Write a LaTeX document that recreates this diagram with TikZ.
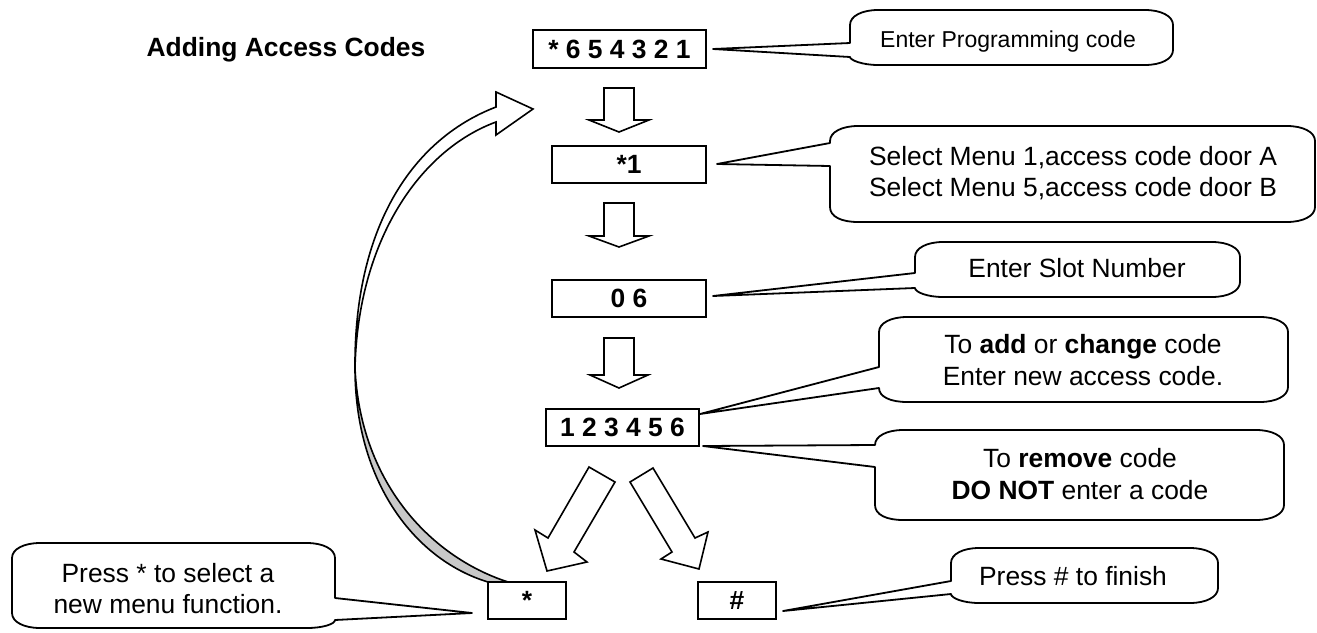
\documentclass[tikz,border=0pt]{standalone}
\usepackage{fontspec}
\setmainfont{Liberation Sans}
\newcommand\fs{\fontsize{13.2}{15.75}\selectfont}
\newcommand\fss{\fontsize{11.5}{14}\selectfont}
\definecolor{curvegray}{RGB}{200,200,200}
% callout with wedge on the left side: L,T,R,B,wedge-top,wedge-bottom,tip
\newcommand\calloutL[7]{%
 \draw[co] (#1+28,#2) -- (#3-28,#2) .. controls (#3-12,#2) and (#3,#2+6) .. (#3,#2+15)
  -- (#3,#4-15) .. controls (#3,#4-6) and (#3-12,#4) .. (#3-28,#4)
  -- (#1+28,#4) .. controls (#1+12,#4) and (#1,#4-5) .. (#1,{max(#6,#4-15)})
  -- (#1,#6) -- (#7) -- (#1,#5) -- (#1,{min(#5,#2+15)})
  .. controls (#1,#2+6) and (#1+12,#2) .. (#1+28,#2) -- cycle;}
% callout with wedge on the right side
\newcommand\calloutR[7]{%
 \draw[co] (#3-28,#2) .. controls (#3-12,#2) and (#3,#2+6) .. (#3,{min(#5,#2+15)})
  -- (#3,#5) -- (#7) -- (#3,#6) -- (#3,{max(#6,#4-15)})
  .. controls (#3,#4-4) and (#3-12,#4) .. (#3-28,#4)
  -- (#1+28,#4) .. controls (#1+12,#4) and (#1,#4-6) .. (#1,#4-15)
  -- (#1,#2+15) .. controls (#1,#2+6) and (#1+12,#2) .. (#1+28,#2) -- cycle;}
\begin{document}
\begin{tikzpicture}[x=0.5pt,y=-0.5pt,
  box/.style={draw,line width=0.9pt,fill=white,inner sep=0pt,font=\fs\bfseries,minimum height=18.5pt},
  co/.style={draw,line width=0.9pt,fill=white,line join=round},
  blk/.style={draw,line width=0.8pt,fill=white,line join=miter},
  txt/.style={font=\fs,align=center,inner sep=0pt}]
\useasboundingbox (0,0) rectangle (1317,632);

% title
\node[font=\fs\bfseries,anchor=base,inner sep=0pt] (title) at (286,56) {Adding Access Codes};

% curved return arrow
\draw[blk] (496,107) -- (496,92) -- (533,109) -- (496,135) -- (496,122)
  .. controls (420,150) and (358,240) .. (355,368)
  .. controls (354,230) and (410,140) .. (496,107) -- cycle;
\draw[blk,fill=curvegray] (355,368) .. controls (355,482) and (415,560) .. (488,582)
  -- (508,582) .. controls (428,556) and (360,480) .. (355,368) -- cycle;

% boxes
\node[box,minimum width=86.5pt,minimum height=19pt] (b1) at (619.5,49) {* 6 5 4 3 2 1};
\node[box,minimum width=77pt] (b2) at (629,164.5) {*1};
\node[box,minimum width=77pt] (b3) at (629,298.5) {0 6};
\node[box,minimum width=76.5pt] (b4) at (622.5,427.5) {1 2 3 4 5 6};
\node[box,minimum width=39pt] (bs) at (527,600.5) {*};
\node[box,minimum width=39pt] (bh) at (737,600.5) {\#};

% block arrows down
\draw[blk] (604,88) -- (634,88) -- (634,120) -- (649,120) -- (619,132) -- (589,120) -- (604,120) -- cycle;
\draw[blk] (604,203) -- (634,203) -- (634,236) -- (649,236) -- (619,247) -- (589,236) -- (604,236) -- cycle;
\draw[blk] (604,338) -- (634,338) -- (634,375) -- (648,375) -- (619,388) -- (590,375) -- (604,375) -- cycle;

% diagonal block arrows
\draw[blk] (589,467) -- (615,482) -- (574,552) -- (587,562) -- (547,571) -- (535,530) -- (548,538) -- cycle;
\draw[blk] (630,482) -- (653,468) -- (695,538) -- (708,532) -- (699,569) -- (661,559) -- (672,552) -- cycle;

% callout tips
\coordinate (t1) at (713,49);
\coordinate (t2) at (717,164);
\coordinate (t3) at (713,296);
\coordinate (t4) at (700,414);
\coordinate (t5) at (703,446);
\coordinate (t6) at (783,611);
\coordinate (t7) at (472,613);

% callouts
\calloutL{850}{10}{1173}{65}{43}{57}{t1}
\calloutL{830}{126}{1315}{222}{143}{166}{t2}
\calloutL{915}{242}{1240}{297}{273}{288}{t3}
\calloutL{879}{317}{1288}{402}{367}{388}{t4}
\calloutL{875}{430}{1284}{520}{445}{467}{t5}
\calloutL{951}{548}{1218}{603}{581}{594}{t6}
\calloutR{12}{543}{335}{628}{598}{620}{t7}

% callout texts
\node[txt,font=\fss,anchor=base] (c1) at (1008,47) {Enter Programming code};
\node[txt] (c2) at (1073,173) {Select Menu 1,access code door A\\Select Menu 5,access code door B};
\node[txt,anchor=base] (c3) at (1077,277) {Enter Slot Number};
\node[txt] (c4) at (1083,360) {To \textbf{add} or \textbf{change} code\\Enter new access code.};
\node[txt] (c5) at (1080,474) {To \textbf{remove} code\\\textbf{DO NOT} enter a code};
\node[txt,anchor=base] (c6) at (1073,585) {Press \# to finish};
\node[txt] (c7) at (168,588.5) {Press * to select a\\new menu function.};
\end{tikzpicture}
\end{document}
